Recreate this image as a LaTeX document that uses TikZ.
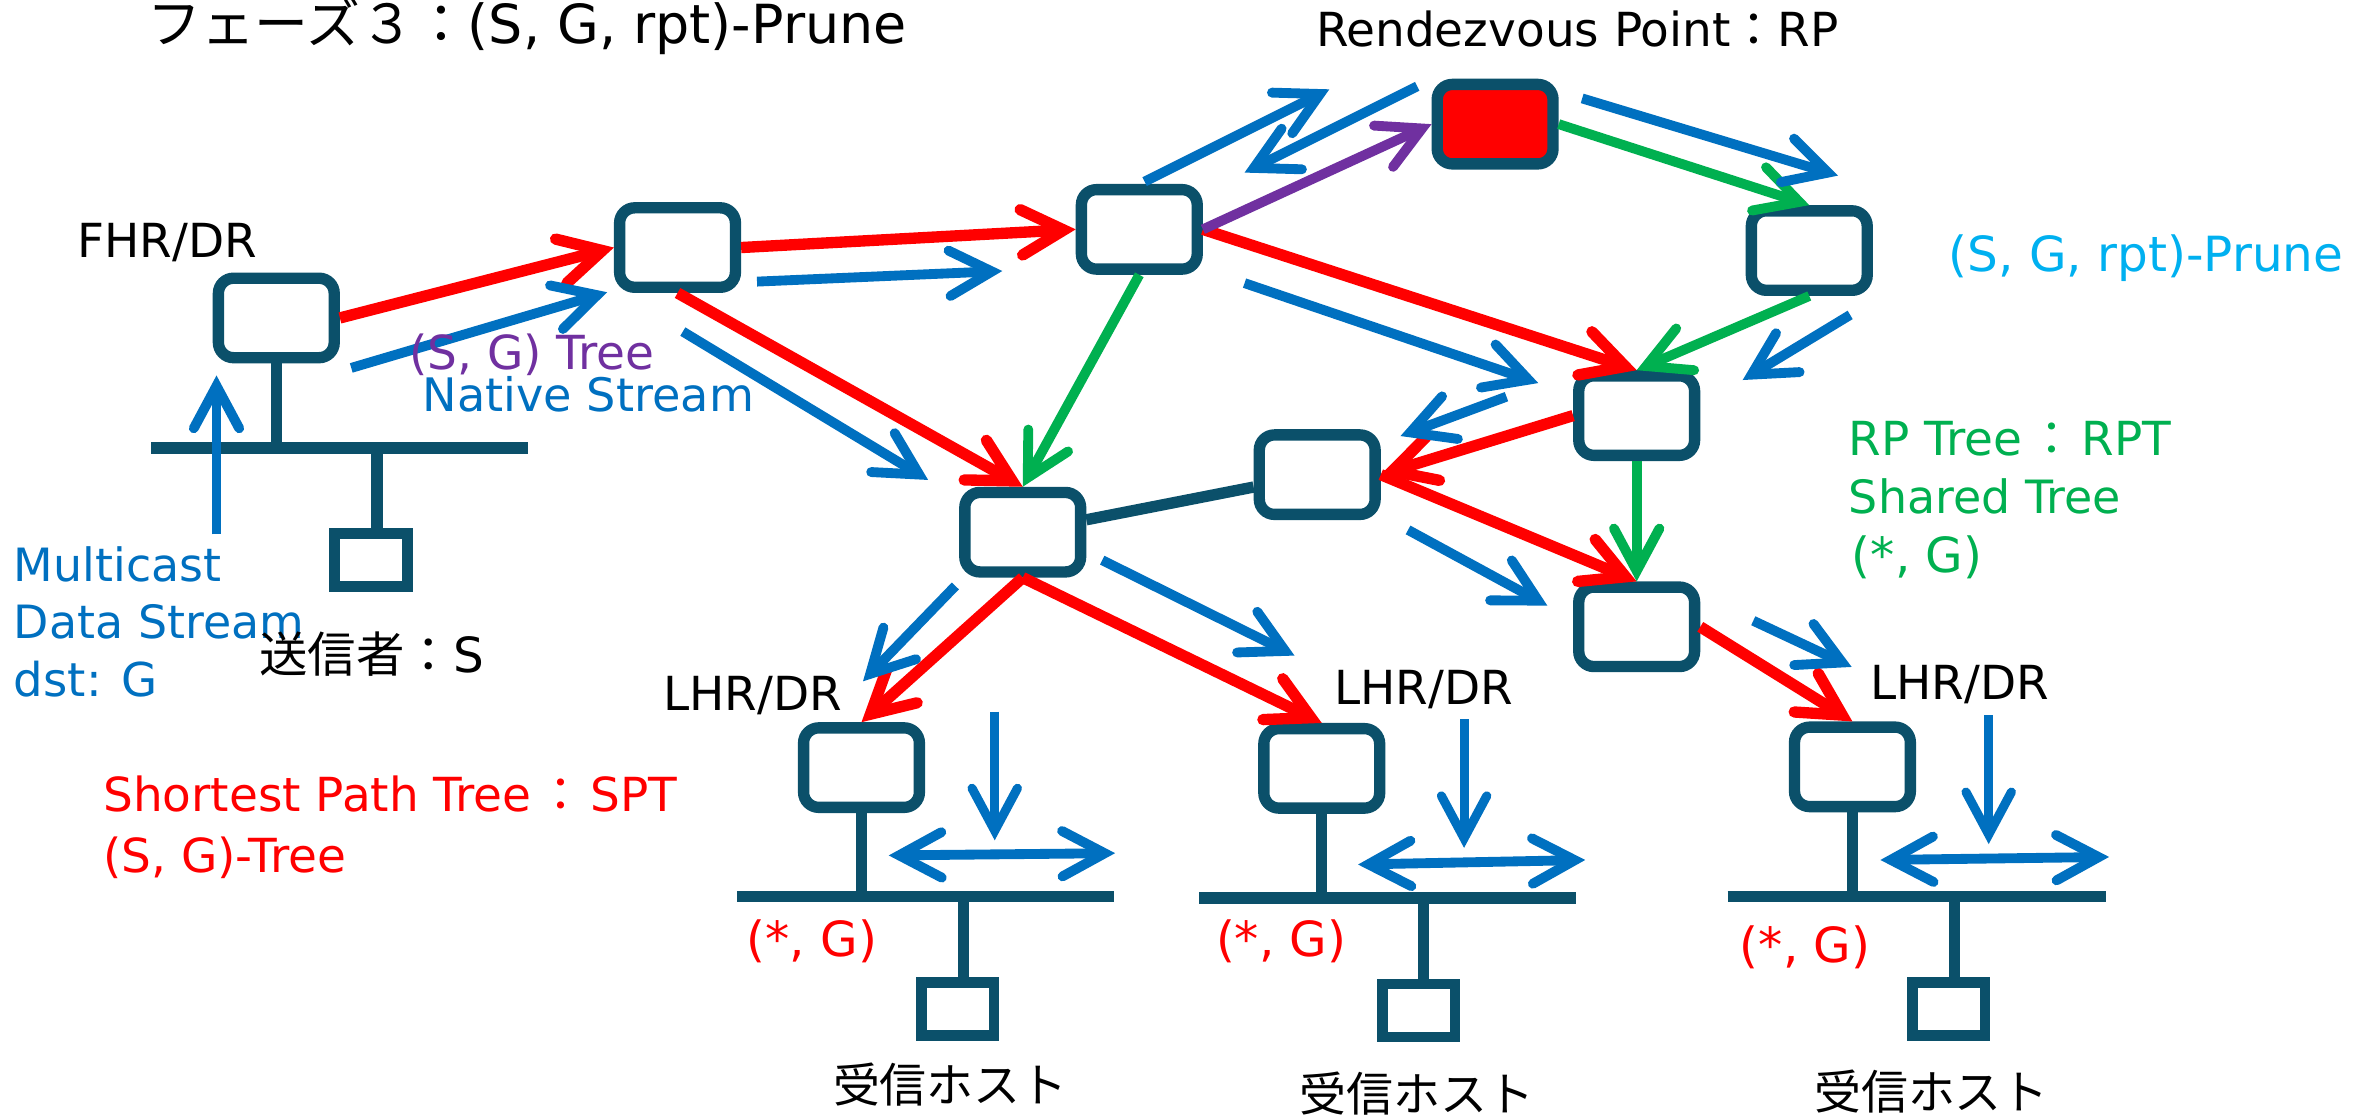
\documentclass[tikz,border=0pt]{standalone}
\usepackage{fontspec}
\setmainfont{DejaVu Sans}
\newfontfamily\jp{Noto Sans CJK JP}
\usetikzlibrary{arrows.meta}

\definecolor{rtr}{RGB}{11,80,106}
\definecolor{sptc}{RGB}{255,0,0}
\definecolor{natc}{RGB}{0,112,192}
\definecolor{rptc}{RGB}{0,176,80}
\definecolor{sgtc}{RGB}{112,48,160}
\definecolor{prnc}{RGB}{0,176,240}

\tikzset{
  router/.style={draw=rtr, line width=7.5pt, rounded corners=10pt, fill=white,
    minimum width=76.5pt, minimum height=52.5pt, inner sep=0pt},
  host/.style={draw=rtr, line width=7pt, fill=white,
    minimum width=48pt, minimum height=35pt, inner sep=0pt},
  wire/.style={draw=rtr, line width=7.5pt},
  vbarb/.tip={Straight Barb[length=28pt,width=30pt,line cap=round,line join=miter]},
  sptarrow/.style={draw=sptc, line width=7.5pt, -vbarb},
  rptarrow/.style={draw=rptc, line width=6.5pt, -vbarb},
  sgtarrow/.style={draw=sgtc, line width=6.5pt, -vbarb},
  natarrow/.style={draw=natc, line width=6.5pt, -vbarb},
  natboth/.style={draw=natc, line width=6.5pt, vbarb-vbarb},
  lbl/.style={inner sep=0pt, anchor=base west, font=\fontsize{31}{37}\selectfont},
}
\newcommand{\widecolon}{\kern4pt{\jp ：}\kern4pt}

\begin{document}
\begin{tikzpicture}[x=1pt, y=-1pt]
\useasboundingbox[fill=white] (0,0) rectangle (1568,736);

% ---- segments (buses) ----
\coordinate (busS) at (100,296);
\coordinate (busA) at (487,592);
\coordinate (busB) at (792,593);
\coordinate (busC) at (1141,592);
\draw[wire] (busS) -- (349,296);
\draw[wire] (busA) -- (736,592);
\draw[wire] (busB) -- (1041,593);
\draw[wire] (busC) -- (1391,592);

% ---- hosts ----
\node[host] (src) at (245,370) {};
\node[host] (hA) at (632.5,666.5) {};
\node[host] (hB) at (937,667.5) {};
\node[host] (hC) at (1287,666.5) {};
\draw[wire] ([xshift=4pt]src.north) -- ([xshift=4pt]src.north |- busS);
\draw[wire] ([xshift=4pt]hA.north) -- ([xshift=4pt]hA.north |- busA);
\draw[wire] ([xshift=3pt]hB.north) -- ([xshift=3pt]hB.north |- busB);
\draw[wire] ([xshift=4pt]hC.north) -- ([xshift=4pt]hC.north |- busC);

% ---- routers ----
\node[router] (fhr) at (182.5,210) {};
\node[router] (r1) at (447.5,163.5) {};
\node[router] (r2) at (752.5,151.5) {};
\node[router, fill=sptc] (rp) at (987.5,82) {};
\node[router] (r3) at (1195,165.5) {};
\node[router] (r4) at (1081,274.5) {};
\node[router] (r5) at (870,313.5) {};
\node[router] (r6) at (675.5,351.5) {};
\node[router] (r7) at (1081,414) {};
\node[router] (lhra) at (569,507) {};
\node[router] (lhrb) at (873,507.5) {};
\node[router] (lhrc) at (1223.5,506.5) {};

\draw[wire] (fhr.south) -- (fhr.south |- busS);
\draw[wire] (lhra.south) -- (lhra.south |- busA);
\draw[wire] (lhrb.south) -- (lhrb.south |- busB);
\draw[wire] (lhrc.south) -- (lhrc.south |- busC);
\draw[wire] (r6) -- (r5);

% ---- shortest path tree ----
\draw[sptarrow] (fhr.east) -- (r1.west);
\draw[sptarrow] (r1.east) -- (r2.west);
\draw[sptarrow] (r1.south) -- (r6.north);
\draw[sptarrow] (r2.east) -- (r4.north);
\draw[sptarrow] (r4.west) -- (r5.east);
\draw[sptarrow] (r5.east) -- (r7.north);
\draw[sptarrow] (r6.south) -- (lhra.north);
\draw[sptarrow] (r6.south) -- (lhrb.north);
\draw[sptarrow] (r7.east) -- (lhrc.north);

% ---- RP tree ----
\draw[rptarrow] (rp.east) -- (r3.north);
\draw[rptarrow] (r3.south) -- (r4.north);
\draw[rptarrow] (r4.south) -- (r7.north);
\draw[rptarrow] (r2.south) -- (r6.north);

% ---- (S, G) tree towards the RP ----
\draw[sgtarrow] (r2.east) -- (rp.west);

% ---- native stream ----
\draw[natarrow] (143,353) -- (143,248);
\draw[natarrow] (232,243) -- (401,193);
\draw[natarrow] (500,186) -- (662,179);
\draw[natarrow] (451,219) -- (613,317);
\draw[natarrow] (756,120) -- (878,59);
\draw[natarrow] (936,57) -- (822,114);
\draw[natarrow] (1045,65) -- (1214,116);
\draw[natarrow] (1222,208) -- (1151,251);
\draw[natarrow] (822,187) -- (1016,253);
\draw[natarrow] (995,262) -- (925,288);
\draw[natarrow] (930,350) -- (1022,400);
\draw[natarrow] (631,387) -- (570,450);
\draw[natarrow] (728,370) -- (855,433);
\draw[natarrow] (1158,410) -- (1223,440.5);
\draw[natarrow, line width=6pt] (657,470) -- (657,555);
\draw[natarrow, line width=6pt] (967,475) -- (967,560);
\draw[natarrow, line width=6pt] (1313.5,472.5) -- (1313.5,557.5);
\draw[natboth] (587,565) -- (736.5,563.5);
\draw[natboth] (897,571) -- (1047,568);
\draw[natboth] (1242,568) -- (1393,566);

% ---- labels ----
\node[lbl, font=\fontsize{35.6}{40}\selectfont] (title) at (97,29) {{\jp フェーズ３：}(S, G, rpt)-Prune};
\node[lbl] (rplbl) at (869,30.5) {Rendezvous Point{\jp ：}RP};
\node[lbl] (fhrlbl) at (51,170) {FHR/DR};
\node[lbl, text=sgtc] (sgtlbl) at (270,244) {(S, G) Tree};
\node[lbl, text=natc, font=\fontsize{30.5}{36}\selectfont] (natlbl) at (279,272) {Native Stream};
\node[lbl, text=prnc, font=\fontsize{32}{38}\selectfont] (prnlbl) at (1287,179) {(S, G, rpt)-Prune};
\node[lbl, text=rptc] (rptlbla) at (1221,301) {RP Tree\widecolon RPT};
\node[lbl, text=rptc, font=\fontsize{30.3}{36}\selectfont] (rptlblb) at (1221,339) {Shared Tree};
\node[lbl, text=rptc, font=\fontsize{32}{38}\selectfont] (rptlblc) at (1223,378) {(*, G)};
\node[lbl, text=natc, font=\fontsize{30.3}{36}\selectfont] (mclbla) at (9,384) {Multicast};
\node[lbl, text=natc, font=\fontsize{30.3}{36}\selectfont] (mclblb) at (9,422) {Data Stream};
\node[lbl, text=natc, font=\fontsize{30.8}{36}\selectfont] (mclblc) at (9,460) {dst: G};
\node[lbl, font=\fontsize{32}{38}\selectfont] (srclbl) at (171,444) {{\jp 送信者：}S};
\node[lbl] (lhrlbla) at (438,469) {LHR/DR};
\node[lbl] (lhrlblb) at (881,465) {LHR/DR};
\node[lbl] (lhrlblc) at (1235,462) {LHR/DR};
\node[lbl, text=sptc] (sptlbla) at (68,536) {Shortest Path Tree\widecolon SPT};
\node[lbl, text=sptc] (sptlblb) at (68,576) {(S, G)-Tree};
\node[lbl, text=sptc, font=\fontsize{32}{38}\selectfont] (sgla) at (493,632) {(*, G)};
\node[lbl, text=sptc, font=\fontsize{32}{38}\selectfont] (sglb) at (803,632) {(*, G)};
\node[lbl, text=sptc, font=\fontsize{32}{38}\selectfont] (sglc) at (1149,636) {(*, G)};
\node[lbl, font=\jp\fontsize{31}{37}\selectfont] (rcvlbla) at (550,728) {受信ホスト};
\node[lbl, font=\jp\fontsize{31}{37}\selectfont] (rcvlblb) at (858,734) {受信ホスト};
\node[lbl, font=\jp\fontsize{31}{37}\selectfont] (rcvlblc) at (1198,733) {受信ホスト};
\end{tikzpicture}
\end{document}
